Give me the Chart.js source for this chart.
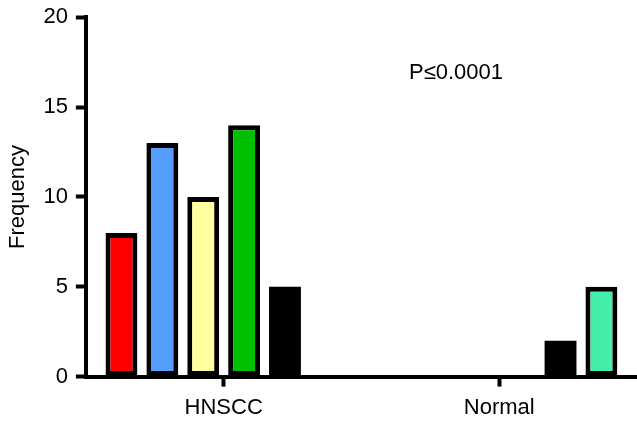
<!doctype html>
<html>
  <head>
    <meta charset="utf-8" />
    <title>Frequency HNSCC / Normal</title>
    <script src="https://cdn.jsdelivr.net/npm/chart.js@4/dist/chart.umd.min.js"></script>
    <style>
html, body {
  margin: 0;
  padding: 0;
  background: #fff;
}
#wrap {
  width: 637px;
  height: 424px;
}
</style>
  </head>
  <body>
    <div id="wrap"><canvas id="myChart"></canvas></div>
    <script>
      const categories = ['HNSCC', 'Normal'];
      const redValues = [8, null];
      const blueValues = [13, null];
      const yellowValues = [10, null];
      const greenValues = [14, null];
      const blackValues = [5, 2];
      const tealValues = [null, 5];
      const yTicks = [0, 5, 10, 15, 20];
      const pLabel = 'P\u22640.0001';

      const font = {family: '"Liberation Sans", Arial, sans-serif', size: 22};
      const yTickFont = {family: font.family, size: 22, lineHeight: 0.85};

      const makeSet = (label, color, values) => ({
        label: label,
        data: values,
        backgroundColor: color,
        borderColor: '#000',
        // black bars need no outline (it only leaves a faint seam)
        borderWidth: color === '#000000' ? 0 : 5,
        borderSkipped: false,
        categoryPercentage: 0.89,
        barPercentage: 0.78,
      });

      const data = {
        labels: categories,
        datasets: [
          makeSet('red', '#ff0000', redValues),
          makeSet('blue', '#559dff', blueValues),
          makeSet('yellow', '#ffffa0', yellowValues),
          makeSet('green', '#00bf00', greenValues),
          makeSet('black', '#000000', blackValues),
          makeSet('teal', '#44eeaa', tealValues),
        ]
      };

      // P value text, drawn after the bars
      const pText = {
        id: 'pText',
        afterDraw(chart) {
          const ctx = chart.ctx;
          const y = chart.scales.y.getPixelForValue(16.9);
          ctx.save();
          ctx.font = `${font.size}px ${font.family}`;
          ctx.fillStyle = '#000';
          ctx.textAlign = 'left';
          ctx.textBaseline = 'middle';
          ctx.fillText(pLabel, 409, y);
          ctx.restore();
        }
      };

      const config = {
        type: 'bar',
        data: data,
        plugins: [pText],
        options: {
          responsive: true,
          maintainAspectRatio: false,
          animation: false,
          layout: {padding: {left: 5, top: 14, right: 0, bottom: -5}},
          plugins: {
            legend: {display: false},
            tooltip: {enabled: false},
          },
          scales: {
            x: {
              offset: true,
              grid: {
                offset: false,
                drawOnChartArea: false,
                drawTicks: true,
                tickLength: 10,
                tickWidth: 4,
                tickColor: '#000',
              },
              border: {display: true, color: '#000', width: 4},
              ticks: {color: '#000', font: font, padding: 8},
            },
            y: {
              min: 0,
              max: 20,
              afterBuildTicks(scale) {
                scale.ticks = yTicks.map(v => ({value: v}));
              },
              grid: {
                drawOnChartArea: false,
                drawTicks: true,
                tickLength: 10,
                tickWidth: 4,
                tickColor: '#000',
              },
              border: {display: true, color: '#000', width: 4},
              ticks: {color: '#000', font: yTickFont, padding: 8},
              title: {
                display: true,
                text: 'Frequency',
                color: '#000',
                font: font,
                padding: {top: 0, bottom: 4},
              },
            },
          },
        }
      };

      const myChart = new Chart(document.getElementById('myChart'), config);
    </script>
  </body>
</html>
